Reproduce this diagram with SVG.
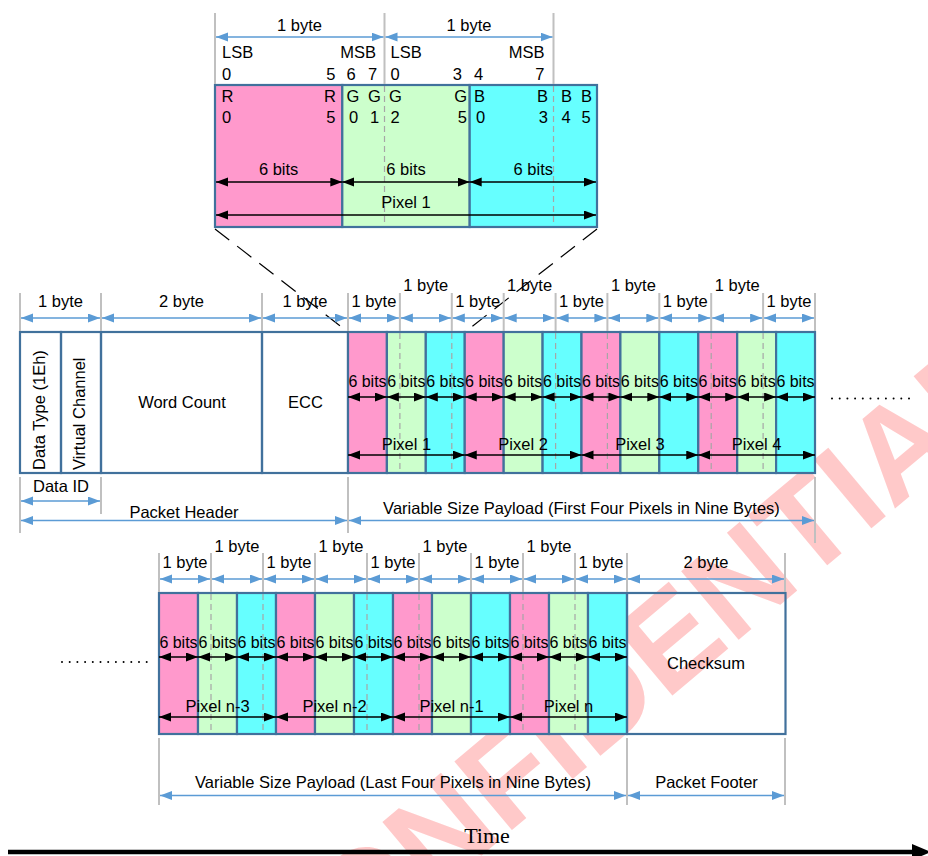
<svg xmlns="http://www.w3.org/2000/svg" width="928" height="856" viewBox="0 0 928 856">
<defs>
<marker id="ba" markerUnits="userSpaceOnUse" markerWidth="13" markerHeight="10" refX="12" refY="4.5" orient="auto-start-reverse"><path d="M0,0 L12,4.5 L0,9 z" fill="#5b9bd5"/></marker>
<marker id="ka" markerUnits="userSpaceOnUse" markerWidth="13" markerHeight="10" refX="12" refY="4.5" orient="auto-start-reverse"><path d="M0,0 L12,4.5 L0,9 z" fill="#000"/></marker>
</defs>
<style>
text{font-family:"Liberation Sans",Arial,sans-serif;font-size:16.5px;fill:#000}
.c{text-anchor:middle}
.e{text-anchor:end}
.sb{font-size:16px}
.box{fill:none;stroke:#41719c;stroke-width:2.2}
.pk{fill:#ff99cc;stroke:#41719c;stroke-width:2.2}
.gr{fill:#ccffcc;stroke:#41719c;stroke-width:2.2}
.cy{fill:#66ffff;stroke:#41719c;stroke-width:2.2}
.ext{stroke:#c0c0c0;stroke-width:2;fill:none}
.dsh{stroke:#a6a6a6;stroke-width:1.2;stroke-dasharray:6 4;fill:none}
.blu{stroke:#5b9bd5;stroke-width:1.5;fill:none;marker-start:url(#ba);marker-end:url(#ba)}
.blk{stroke:#000;stroke-width:1.5;fill:none;marker-start:url(#ka);marker-end:url(#ka)}
.zl{stroke:#000;stroke-width:1.2;stroke-dasharray:18 10;fill:none}
.dots{stroke:#000;stroke-width:2;stroke-linecap:round;stroke-dasharray:0 7.7;fill:none}
</style>
<rect width="928" height="856" fill="#fff"/>
<text transform="translate(625 675) rotate(-40)" x="0" y="46" text-anchor="middle" style="font-size:130px;font-weight:bold;fill:#ffc9c9">CONFIDENTIAL</text>

<g id="pixel1-detail">
<rect class="pk" x="215" y="85" width="127.3" height="142"/>
<rect class="gr" x="342.3" y="85" width="127.4" height="142"/>
<rect class="cy" x="469.7" y="85" width="127.3" height="142"/>
<line class="dsh" x1="384.5" y1="86" x2="384.5" y2="226"/>
<line class="dsh" x1="553.5" y1="86" x2="553.5" y2="226"/>
<text class="c" x="299.5" y="31">1 byte</text>
<text class="c" x="469" y="31">1 byte</text>
<text x="222" y="58">LSB</text>
<text class="e" x="376" y="58">MSB</text>
<text x="390.5" y="58">LSB</text>
<text class="e" x="544.5" y="58">MSB</text>
<text x="222" y="80">0</text>
<text class="e" x="335.5" y="80">5</text>
<text x="346.5" y="80">6</text>
<text x="368" y="80">7</text>
<text x="390.5" y="80">0</text>
<text class="e" x="462" y="80">3</text>
<text x="474" y="80">4</text>
<text class="e" x="544.5" y="80">7</text>
<text x="221.5" y="101.5">R</text>
<text class="e" x="336" y="101.5">R</text>
<text x="346.5" y="101.5">G</text>
<text x="368" y="101.5">G</text>
<text x="389" y="101.5">G</text>
<text class="e" x="467" y="101.5">G</text>
<text x="474" y="101.5">B</text>
<text class="e" x="548" y="101.5">B</text>
<text x="561" y="101.5">B</text>
<text x="581" y="101.5">B</text>
<text x="222" y="122.5">0</text>
<text class="e" x="335.5" y="122.5">5</text>
<text x="349" y="122.5">0</text>
<text x="370" y="122.5">1</text>
<text x="390.5" y="122.5">2</text>
<text class="e" x="467" y="122.5">5</text>
<text x="476" y="122.5">0</text>
<text class="e" x="548" y="122.5">3</text>
<text x="561.5" y="122.5">4</text>
<text x="581.5" y="122.5">5</text>
<text class="c" x="278.6" y="175">6 bits</text>
<text class="c" x="406" y="175">6 bits</text>
<text class="c" x="533.3" y="175">6 bits</text>
<text class="c" x="406" y="208">Pixel 1</text>
</g>

<g id="data-type"><rect class="box" x="20" y="332" width="41" height="141"/><text transform="translate(45 470) rotate(-90)">Data Type (1Eh)</text></g>
<g id="virtual-channel"><rect class="box" x="61" y="332" width="40" height="141"/><text transform="translate(84.5 470) rotate(-90)">Virtual Channel</text></g>
<g id="word-count"><rect class="box" x="101" y="332" width="161" height="141"/><text class="c" x="182" y="408">Word Count</text></g>
<g id="ecc"><rect class="box" x="262" y="332" width="86" height="141"/><text class="c" x="305.5" y="408">ECC</text></g>

<g id="payload-first">
<rect class="pk" x="348" y="332" width="38.9" height="141"/>
<rect class="gr" x="386.9" y="332" width="38.9" height="141"/>
<rect class="cy" x="425.8" y="332" width="38.95" height="141"/>
<rect class="pk" x="464.75" y="332" width="38.95" height="141"/>
<rect class="gr" x="503.7" y="332" width="38.9" height="141"/>
<rect class="cy" x="542.6" y="332" width="38.9" height="141"/>
<rect class="pk" x="581.5" y="332" width="38.9" height="141"/>
<rect class="gr" x="620.4" y="332" width="38.9" height="141"/>
<rect class="cy" x="659.3" y="332" width="38.95" height="141"/>
<rect class="pk" x="698.25" y="332" width="38.95" height="141"/>
<rect class="gr" x="737.2" y="332" width="38.9" height="141"/>
<rect class="cy" x="776.1" y="332" width="38.9" height="141"/>
<line class="dsh" x1="399.9" y1="333" x2="399.9" y2="472"/>
<line class="dsh" x1="451.8" y1="333" x2="451.8" y2="472"/>
<line class="dsh" x1="555.6" y1="333" x2="555.6" y2="472"/>
<line class="dsh" x1="607.4" y1="333" x2="607.4" y2="472"/>
<line class="dsh" x1="711.2" y1="333" x2="711.2" y2="472"/>
<line class="dsh" x1="763.1" y1="333" x2="763.1" y2="472"/>
<text class="c sb" x="367.5" y="386.5">6 bits</text>
<text class="c sb" x="406.4" y="386.5">6 bits</text>
<text class="c sb" x="445.3" y="386.5">6 bits</text>
<text class="c sb" x="484.2" y="386.5">6 bits</text>
<text class="c sb" x="523.1" y="386.5">6 bits</text>
<text class="c sb" x="562.1" y="386.5">6 bits</text>
<text class="c sb" x="601" y="386.5">6 bits</text>
<text class="c sb" x="639.9" y="386.5">6 bits</text>
<text class="c sb" x="678.8" y="386.5">6 bits</text>
<text class="c sb" x="717.7" y="386.5">6 bits</text>
<text class="c sb" x="756.6" y="386.5">6 bits</text>
<text class="c sb" x="795.5" y="386.5">6 bits</text>
<text class="c" x="406.4" y="450">Pixel 1</text>
<text class="c" x="523.1" y="450">Pixel 2</text>
<text class="c" x="639.9" y="450">Pixel 3</text>
<text class="c" x="756.6" y="450">Pixel 4</text>
</g>

<g id="payload-last">
<rect class="pk" x="159" y="593" width="39" height="141"/>
<rect class="gr" x="198" y="593" width="39" height="141"/>
<rect class="cy" x="237" y="593" width="39" height="141"/>
<rect class="pk" x="276" y="593" width="39" height="141"/>
<rect class="gr" x="315" y="593" width="39" height="141"/>
<rect class="cy" x="354" y="593" width="39" height="141"/>
<rect class="pk" x="393" y="593" width="39" height="141"/>
<rect class="gr" x="432" y="593" width="39" height="141"/>
<rect class="cy" x="471" y="593" width="39" height="141"/>
<rect class="pk" x="510" y="593" width="39" height="141"/>
<rect class="gr" x="549" y="593" width="39" height="141"/>
<rect class="cy" x="588" y="593" width="39" height="141"/>
<line class="dsh" x1="211" y1="594" x2="211" y2="733"/>
<line class="dsh" x1="263" y1="594" x2="263" y2="733"/>
<line class="dsh" x1="367" y1="594" x2="367" y2="733"/>
<line class="dsh" x1="419" y1="594" x2="419" y2="733"/>
<line class="dsh" x1="523" y1="594" x2="523" y2="733"/>
<line class="dsh" x1="575" y1="594" x2="575" y2="733"/>
<text class="c sb" x="178.5" y="647.5">6 bits</text>
<text class="c sb" x="217.5" y="647.5">6 bits</text>
<text class="c sb" x="256.5" y="647.5">6 bits</text>
<text class="c sb" x="295.5" y="647.5">6 bits</text>
<text class="c sb" x="334.5" y="647.5">6 bits</text>
<text class="c sb" x="373.5" y="647.5">6 bits</text>
<text class="c sb" x="412.5" y="647.5">6 bits</text>
<text class="c sb" x="451.5" y="647.5">6 bits</text>
<text class="c sb" x="490.5" y="647.5">6 bits</text>
<text class="c sb" x="529.5" y="647.5">6 bits</text>
<text class="c sb" x="568.5" y="647.5">6 bits</text>
<text class="c sb" x="607.5" y="647.5">6 bits</text>
<text class="c" x="217.5" y="712">Pixel n-3</text>
<text class="c" x="334.5" y="712">Pixel n-2</text>
<text class="c" x="451.5" y="712">Pixel n-1</text>
<text class="c" x="568.5" y="712">Pixel n</text>
</g>

<g id="checksum"><rect class="box" x="627" y="593" width="158.5" height="141"/><text class="c" x="706" y="669">Checksum</text></g>

<g id="labels">
<text class="c" x="60.5" y="306.5">1 byte</text>
<text class="c" x="181.5" y="306.5">2 byte</text>
<text class="c" x="305" y="306.5">1 byte</text>
<text class="c" x="373.9" y="306.5">1 byte</text>
<text class="c" x="425.8" y="290.5">1 byte</text>
<text class="c" x="477.7" y="306.5">1 byte</text>
<text class="c" x="529.6" y="290.5">1 byte</text>
<text class="c" x="581.5" y="306.5">1 byte</text>
<text class="c" x="633.4" y="290.5">1 byte</text>
<text class="c" x="685.3" y="306.5">1 byte</text>
<text class="c" x="737.2" y="290.5">1 byte</text>
<text class="c" x="789" y="306.5">1 byte</text>
<text class="c" x="61" y="492">Data ID</text>
<text class="c" x="184" y="517.5">Packet Header</text>
<text class="c" x="581.5" y="514">Variable Size Payload (First Four Pixels in Nine Bytes)</text>
<text class="c" x="185" y="568">1 byte</text>
<text class="c" x="237" y="552">1 byte</text>
<text class="c" x="289" y="568">1 byte</text>
<text class="c" x="341" y="552">1 byte</text>
<text class="c" x="393" y="568">1 byte</text>
<text class="c" x="445" y="552">1 byte</text>
<text class="c" x="497" y="568">1 byte</text>
<text class="c" x="549" y="552">1 byte</text>
<text class="c" x="601" y="568">1 byte</text>
<text class="c" x="706" y="568">2 byte</text>
<text class="c" x="393" y="788">Variable Size Payload (Last Four Pixels in Nine Bytes)</text>
<text class="c" x="706.5" y="788">Packet Footer</text>
<text class="c" x="487" y="843" style="font-family:'Liberation Serif','Times New Roman',serif;font-size:22px">Time</text>
</g>

<g id="connectors">
<path class="zl" d="M215,229 L348,332 M597,229 L465,332"/>
<path class="ext" d="M215,13V84 M384.5,13V84 M553.5,13V84"/>
<path class="ext" d="M20,293V331 M101,293V331 M262,293V331 M348,293V331 M399.9,293V331 M451.8,293V331 M503.7,293V331 M555.6,293V331 M607.4,293V331 M659.3,293V331 M711.2,293V331 M763.1,293V331 M815,293V331"/>
<path class="ext" d="M20,477V533 M101,477V514 M348,477V533 M815,477V543"/>
<path class="ext" d="M159,553V592 M211,553V592 M263,553V592 M315,553V592 M367,553V592 M419,553V592 M471,553V592 M523,553V592 M575,553V592 M627,553V592 M785,553V592"/>
<path class="ext" d="M159,738V805 M627,738V805 M785,738V805"/>
<line class="blu" x1="216" y1="37" x2="383.5" y2="37"/>
<line class="blu" x1="385.5" y1="37" x2="552.5" y2="37"/>
<line class="blu" x1="21" y1="318" x2="100" y2="318"/>
<line class="blu" x1="102" y1="318" x2="261" y2="318"/>
<line class="blu" x1="263" y1="318" x2="347" y2="318"/>
<line class="blu" x1="349" y1="318" x2="398.9" y2="318"/>
<line class="blu" x1="400.9" y1="318" x2="450.8" y2="318"/>
<line class="blu" x1="452.8" y1="318" x2="502.7" y2="318"/>
<line class="blu" x1="504.7" y1="318" x2="554.6" y2="318"/>
<line class="blu" x1="556.6" y1="318" x2="606.4" y2="318"/>
<line class="blu" x1="608.4" y1="318" x2="658.3" y2="318"/>
<line class="blu" x1="660.3" y1="318" x2="710.2" y2="318"/>
<line class="blu" x1="712.2" y1="318" x2="762.1" y2="318"/>
<line class="blu" x1="764.1" y1="318" x2="814" y2="318"/>
<line class="blu" x1="21" y1="501" x2="100" y2="501"/>
<line class="blu" x1="21" y1="520.5" x2="347" y2="520.5"/>
<line class="blu" x1="349" y1="520.5" x2="814" y2="520.5"/>
<line class="blu" x1="160" y1="579" x2="210" y2="579"/>
<line class="blu" x1="212" y1="579" x2="262" y2="579"/>
<line class="blu" x1="264" y1="579" x2="314" y2="579"/>
<line class="blu" x1="316" y1="579" x2="366" y2="579"/>
<line class="blu" x1="368" y1="579" x2="418" y2="579"/>
<line class="blu" x1="420" y1="579" x2="470" y2="579"/>
<line class="blu" x1="472" y1="579" x2="522" y2="579"/>
<line class="blu" x1="524" y1="579" x2="574" y2="579"/>
<line class="blu" x1="576" y1="579" x2="626" y2="579"/>
<line class="blu" x1="628" y1="579" x2="784" y2="579"/>
<line class="blu" x1="160" y1="795.5" x2="626" y2="795.5"/>
<line class="blu" x1="628" y1="795.5" x2="784" y2="795.5"/>
<line class="blk" x1="216" y1="182" x2="342.3" y2="182"/>
<line class="blk" x1="342.3" y1="182" x2="469.7" y2="182"/>
<line class="blk" x1="469.7" y1="182" x2="596" y2="182"/>
<line class="blk" x1="216" y1="215" x2="596" y2="215"/>
<path class="blk" d="M348,397H386.9"/>
<path class="blk" d="M386.9,397H425.8"/>
<path class="blk" d="M425.8,397H464.75"/>
<path class="blk" d="M464.75,397H503.7"/>
<path class="blk" d="M503.7,397H542.6"/>
<path class="blk" d="M542.6,397H581.5"/>
<path class="blk" d="M581.5,397H620.4"/>
<path class="blk" d="M620.4,397H659.3"/>
<path class="blk" d="M659.3,397H698.25"/>
<path class="blk" d="M698.25,397H737.2"/>
<path class="blk" d="M737.2,397H776.1"/>
<path class="blk" d="M776.1,397H815"/>
<path class="blk" d="M348,455H464.75"/>
<path class="blk" d="M464.75,455H581.5"/>
<path class="blk" d="M581.5,455H698.25"/>
<path class="blk" d="M698.25,455H815"/>
<path class="blk" d="M159,657H198"/>
<path class="blk" d="M198,657H237"/>
<path class="blk" d="M237,657H276"/>
<path class="blk" d="M276,657H315"/>
<path class="blk" d="M315,657H354"/>
<path class="blk" d="M354,657H393"/>
<path class="blk" d="M393,657H432"/>
<path class="blk" d="M432,657H471"/>
<path class="blk" d="M471,657H510"/>
<path class="blk" d="M510,657H549"/>
<path class="blk" d="M549,657H588"/>
<path class="blk" d="M588,657H627"/>
<path class="blk" d="M159,717H276"/>
<path class="blk" d="M276,717H393"/>
<path class="blk" d="M393,717H510"/>
<path class="blk" d="M510,717H627"/>
<line class="dots" x1="832" y1="398.5" x2="915" y2="398.5"/>
<line class="dots" x1="62" y1="662" x2="148" y2="662"/>
<line x1="8" y1="852" x2="916" y2="852" stroke="#000" stroke-width="4.5"/>
<polygon points="912,844 931,852 912,860" fill="#000"/>
</g>
</svg>
